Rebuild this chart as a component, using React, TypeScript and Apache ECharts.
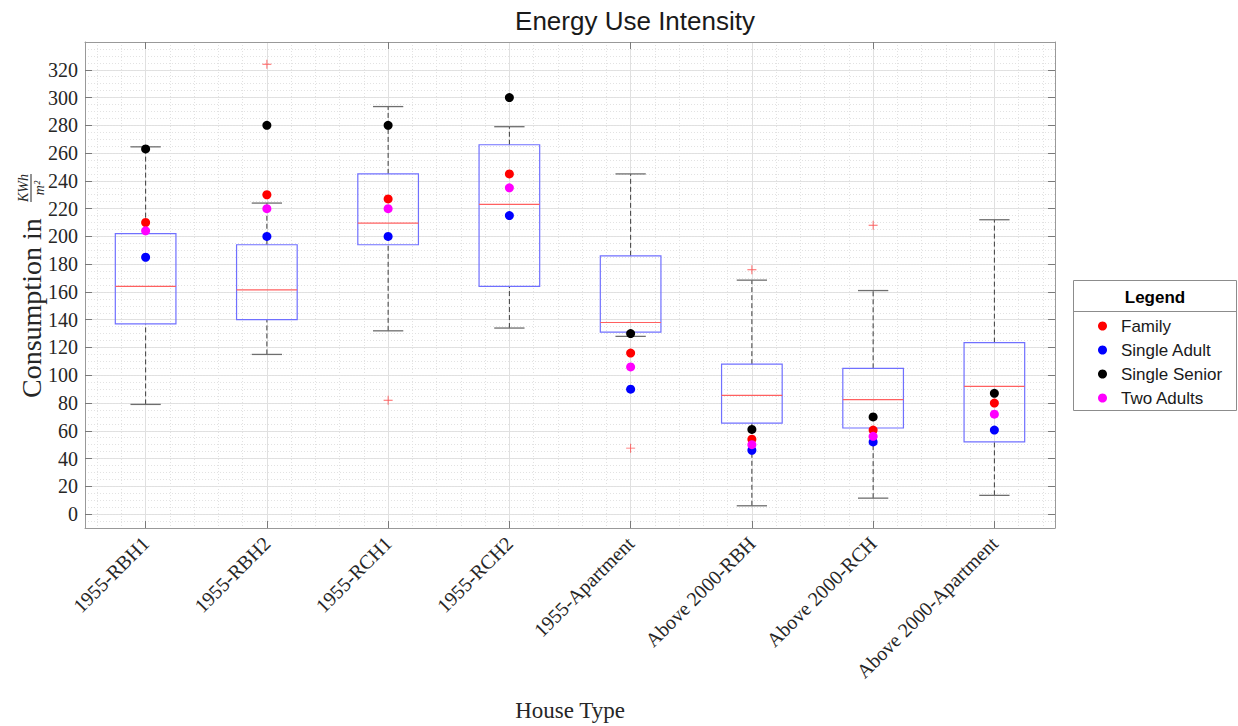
import React, { useEffect, useRef } from 'react';
import * as echarts from 'echarts';

const categories = ['1955-RBH1', '1955-RBH2', '1955-RCH1', '1955-RCH2', '1955-Apartment', 'Above 2000-RBH', 'Above 2000-RCH', 'Above 2000-Apartment'];
const lowerWhisker = [79, 115, 132, 134, 128, 6, 11.5, 13.5];
const q1 = [137, 140, 194, 164, 131, 65.5, 62, 52];
const median = [164, 161.5, 209.5, 223, 138, 85.5, 82.5, 92];
const q3 = [202, 194, 245, 266, 186, 108, 105, 123.5];
const upperWhisker = [264.5, 224, 293.5, 279, 245, 168.5, 161, 212];
const outliers = [[1, 324], [2, 82], [4, 47.5], [5, 176], [6, 208]];

const family = [210, 230, 227, 245, 116, 54, 60.5, 80];
const singleAdult = [185, 200, 200, 215, 90, 46, 52, 60.5];
const singleSenior = [263, 280, 280, 300, 130, 61, 70, 87];
const twoAdults = [204, 220, 220, 235, 106, 50, 56, 72];

const groupNames = ['Family', 'Single Adult', 'Single Senior', 'Two Adults'];
const groupColors = ['#ff0000', '#0000ff', '#000000', '#ff00ff'];
const groupValues = [family, singleAdult, singleSenior, twoAdults];

const yTicks = [0, 20, 40, 60, 80, 100, 120, 140, 160, 180, 200, 220, 240, 260, 280, 300, 320];
const yMin = -10;
const yMax = 340;

const W = 1238;
const H = 726;
const plotLeft = 85;
const plotRight = 1055;
const plotTop = 42;
const plotBottom = 528;

const serif = '"Liberation Serif", "Times New Roman", serif';
const sans = '"Liberation Sans", Arial, sans-serif';

export default function App() {
  const ref = useRef<HTMLDivElement>(null);
  useEffect(() => {
    const chart = echarts.init(ref.current!, null, { renderer: 'svg' });
    const n = categories.length;
    const band = (plotRight - plotLeft) / n;
    const minorStep = band / 5;

    const boxData = categories.map((_, i) => [i, lowerWhisker[i], q1[i], median[i], q3[i], upperWhisker[i]]);

    const labelFont = 28;
    const fracX = 210;

    const gridBase = { top: plotTop, bottom: H - plotBottom, containLabel: false, outerBoundsMode: 'none' };

    const option: any = {
      animation: false,
      backgroundColor: '#ffffff',
      title: {
        text: 'Energy Use Intensity',
        left: 630,
        textAlign: 'center',
        top: 3,
        textStyle: { fontFamily: sans, fontSize: 26, fontWeight: 'normal', color: '#1a1a1a' },
      },
      legend: {
        orient: 'vertical',
        left: 1093,
        top: 311,
        itemWidth: 9,
        itemHeight: 9,
        itemGap: 4,
        icon: 'circle',
        data: groupNames,
        textStyle: { fontFamily: sans, fontSize: 17, color: '#1a1a1a', lineHeight: 20, padding: [0, 0, 0, 9] },
      },
      grid: [
        { ...gridBase, left: plotLeft, right: W - plotRight },
        { ...gridBase, left: plotLeft + minorStep / 2, right: W - plotRight + minorStep / 2 },
        { ...gridBase, left: plotLeft + band / 2, right: W - plotRight + band / 2 },
      ],
      xAxis: [
        {
          type: 'category',
          gridIndex: 0,
          data: categories,
          position: 'bottom',
          boundaryGap: true,
          name: 'House Type',
          nameLocation: 'middle',
          nameGap: 171,
          nameTextStyle: { fontFamily: serif, fontSize: 23, color: '#262626' },
          axisLine: { show: true, onZero: false, lineStyle: { color: '#999999', width: 1 } },
          axisTick: { show: true, inside: true, alignWithLabel: true, length: 7, lineStyle: { color: '#7a7a7a' } },
          axisLabel: { rotate: 45, margin: 12, fontFamily: serif, fontSize: 20, color: '#262626', interval: 0 },
          splitLine: { show: false },
        },
        {
          type: 'category',
          gridIndex: 0,
          data: categories,
          position: 'top',
          boundaryGap: true,
          axisLine: { show: true, onZero: false, lineStyle: { color: '#999999', width: 1 } },
          axisTick: { show: true, inside: true, alignWithLabel: true, length: 7, lineStyle: { color: '#7a7a7a' } },
          axisLabel: { show: false },
          splitLine: { show: false },
        },
        {
          type: 'value',
          gridIndex: 1,
          min: 0,
          max: n * 5 - 1,
          interval: 1,
          axisLine: { show: false },
          axisTick: { show: false },
          axisLabel: { show: false },
          splitLine: { show: true, lineStyle: { color: '#e2e2e2', type: [1, 2], width: 1 } },
        },
        {
          type: 'value',
          gridIndex: 2,
          min: 0,
          max: n - 1,
          interval: 1,
          axisLine: { show: false },
          axisTick: { show: false },
          axisLabel: { show: false },
          splitLine: { show: true, lineStyle: { color: '#e0e0e0', width: 1 } },
        },
      ],
      yAxis: [
        {
          type: 'value',
          gridIndex: 0,
          min: yMin,
          max: yMax,
          position: 'left',
          axisLine: { show: true, onZero: false, lineStyle: { color: '#999999', width: 1 } },
          axisTick: { show: true, inside: true, length: 7, customValues: yTicks, lineStyle: { color: '#7a7a7a' } },
          axisLabel: { show: true, customValues: yTicks, margin: 7, fontFamily: serif, fontSize: 20, color: '#262626' },
          splitLine: { show: true, lineStyle: { color: '#e0e0e0', width: 1 } },
        },
        {
          type: 'value',
          gridIndex: 0,
          min: yMin,
          max: yMax,
          interval: 5,
          position: 'left',
          axisLine: { show: false },
          axisTick: { show: false },
          axisLabel: { show: false },
          splitLine: { show: true, lineStyle: { color: '#e2e2e2', type: [1, 2], width: 1 } },
        },
        {
          type: 'value',
          gridIndex: 0,
          min: yMin,
          max: yMax,
          position: 'right',
          axisLine: { show: true, onZero: false, lineStyle: { color: '#999999', width: 1 } },
          axisTick: { show: true, inside: true, length: 7, customValues: yTicks, lineStyle: { color: '#7a7a7a' } },
          axisLabel: { show: false },
          splitLine: { show: false },
        },
        { type: 'value', gridIndex: 1, show: false, min: 0, max: 1 },
        { type: 'value', gridIndex: 2, show: false, min: 0, max: 1 },
      ],
      graphic: [
        {
          type: 'group',
          x: 31,
          y: 398,
          rotation: Math.PI / 2,
          children: [
            { type: 'text', x: 0, y: 0, style: { text: 'Consumption in', fontFamily: serif, fontSize: labelFont, fill: '#262626', align: 'left', verticalAlign: 'middle' } },
            { type: 'text', x: fracX, y: -8, style: { text: 'KWh', fontFamily: serif, fontStyle: 'italic', fontSize: 14, fill: '#262626', align: 'center', verticalAlign: 'middle' } },
            { type: 'line', shape: { x1: fracX - 14, y1: 0, x2: fracX + 14, y2: 0 }, style: { stroke: '#262626', lineWidth: 1 } },
            { type: 'text', x: fracX, y: 8, style: { text: 'm²', fontFamily: serif, fontStyle: 'italic', fontSize: 14, fill: '#262626', align: 'center', verticalAlign: 'middle' } },
          ],
        },
        {
          type: 'rect',
          shape: { x: 1073.5, y: 280.5, width: 163, height: 130 },
          style: { fill: 'none', stroke: '#8c8c8c', lineWidth: 1 },
        },
        {
          type: 'line',
          shape: { x1: 1073.5, y1: 311.5, x2: 1236.5, y2: 311.5 },
          style: { stroke: '#8c8c8c', lineWidth: 1 },
        },
        {
          type: 'text',
          x: 1155,
          y: 297,
          style: { text: 'Legend', fontFamily: sans, fontSize: 17, fontWeight: 'bold', fill: '#000', align: 'center', verticalAlign: 'middle' },
        },
      ],
      series: [
        {
          type: 'custom',
          name: 'box',
          xAxisIndex: 0,
          yAxisIndex: 0,
          z: 2,
          encode: { x: 0, y: [1, 2, 3, 4, 5] },
          data: boxData,
          renderItem: (params: any, api: any) => {
            const x = api.value(0);
            const pLow = api.coord([x, api.value(1)]);
            const pQ1 = api.coord([x, api.value(2)]);
            const pMed = api.coord([x, api.value(3)]);
            const pQ3 = api.coord([x, api.value(4)]);
            const pHigh = api.coord([x, api.value(5)]);
            const bw = api.size([1, 0])[0];
            const boxW = bw * 0.5;
            const capW = bw * 0.25;
            const cx = pMed[0];
            const dash = { stroke: '#3c3c3c', lineWidth: 1, lineDash: [5, 3] };
            const cap = { stroke: '#6e6e6e', lineWidth: 1.3 };
            return {
              type: 'group',
              children: [
                { type: 'line', shape: { x1: cx, y1: pQ3[1], x2: cx, y2: pHigh[1] }, style: dash },
                { type: 'line', shape: { x1: cx, y1: pLow[1], x2: cx, y2: pQ1[1] }, style: dash },
                { type: 'line', shape: { x1: cx - capW / 2, y1: pHigh[1], x2: cx + capW / 2, y2: pHigh[1] }, style: cap },
                { type: 'line', shape: { x1: cx - capW / 2, y1: pLow[1], x2: cx + capW / 2, y2: pLow[1] }, style: cap },
                { type: 'rect', shape: { x: cx - boxW / 2, y: pQ3[1], width: boxW, height: pQ1[1] - pQ3[1] }, style: { fill: 'none', stroke: '#7070ff', lineWidth: 1.2 } },
                { type: 'line', shape: { x1: cx - boxW / 2, y1: pMed[1], x2: cx + boxW / 2, y2: pMed[1] }, style: { stroke: '#ff6060', lineWidth: 1.2 } },
              ],
            };
          },
        },
        {
          type: 'scatter',
          name: 'outliers',
          xAxisIndex: 0,
          yAxisIndex: 0,
          z: 3,
          symbol: 'path://M4.5,0H5.5V4.5H10V5.5H5.5V10H4.5V5.5H0V4.5H4.5Z',
          symbolSize: 9,
          itemStyle: { color: '#ff3b3b' },
          data: outliers,
        },
        ...groupNames.map((name, gi) => ({
          type: 'scatter',
          name,
          xAxisIndex: 0,
          yAxisIndex: 0,
          z: 4,
          symbol: 'circle',
          symbolSize: 9,
          itemStyle: { color: groupColors[gi], opacity: 1 },
          data: groupValues[gi].map((v, i) => [i, v]),
        })),
      ],
    };
    chart.setOption(option);
    return () => chart.dispose();
  }, []);
  return <div ref={ref} style={{ position: 'absolute', left: 0, top: 0, width: W, height: H }} />;
}
